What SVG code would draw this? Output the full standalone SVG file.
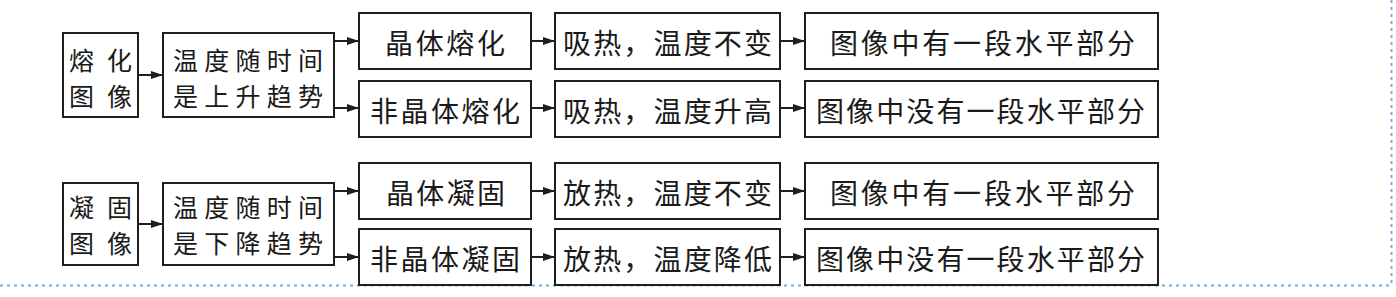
<svg xmlns="http://www.w3.org/2000/svg" width="1396" height="297" viewBox="0 0 1396 297">
<style>
.box{fill:#fff;stroke:#1e1e1e;stroke-width:2}
.t{font-family:"Noto Sans CJK SC","Noto Sans CJK JP",sans-serif;font-size:28px;fill:#1a1a1a;dominant-baseline:central}
.t2{font-size:25px}
.c{stroke:#1e1e1e;stroke-width:2;fill:none;marker-end:url(#ah)}
.dot{stroke:#6cb2d6;stroke-width:2;stroke-dasharray:3 4;fill:none}
</style>
<defs>
<marker id="ah" viewBox="0 0 12 8" refX="12" refY="4" markerWidth="12" markerHeight="8" markerUnits="userSpaceOnUse" orient="auto">
<path d="M0,0 L12,4 L0,8 Z" fill="#1e1e1e"/>
</marker>
</defs>
<rect width="1396" height="297" fill="#fff"/>
<g id="border">
<line class="dot" x1="0" y1="285.5" x2="1392" y2="285.5"/>
<line class="dot" x1="1391.5" y1="0" x2="1391.5" y2="285" style="stroke:#8aa8cc"/>
</g>
<g id="connectors">
<line class="c" x1="138" y1="75" x2="163" y2="75"/>
<line class="c" x1="334" y1="41" x2="359" y2="41"/>
<line class="c" x1="334" y1="108" x2="359" y2="108"/>
<line class="c" x1="531" y1="41" x2="555" y2="41"/>
<line class="c" x1="531" y1="108" x2="555" y2="108"/>
<line class="c" x1="780" y1="41" x2="805" y2="41"/>
<line class="c" x1="780" y1="108" x2="805" y2="108"/>
<line class="c" x1="138" y1="224" x2="163" y2="224"/>
<line class="c" x1="334" y1="191" x2="359" y2="191"/>
<line class="c" x1="334" y1="257" x2="359" y2="257"/>
<line class="c" x1="531" y1="191" x2="555" y2="191"/>
<line class="c" x1="531" y1="257" x2="555" y2="257"/>
<line class="c" x1="780" y1="191" x2="805" y2="191"/>
<line class="c" x1="780" y1="257" x2="805" y2="257"/>
</g>
<g id="melt-image">
<rect class="box" x="63" y="33" width="75" height="84"/>
<text class="t t2"><tspan x="69" y="58.8" textLength="63" lengthAdjust="spacing">熔化</tspan><tspan x="69" y="95.2" textLength="63" lengthAdjust="spacing">图像</tspan></text>
</g>
<g id="melt-trend">
<rect class="box" x="163" y="33" width="171" height="84"/>
<text class="t t2"><tspan x="173" y="58.8" textLength="150" lengthAdjust="spacing">温度随时间</tspan><tspan x="173" y="95.2" textLength="150" lengthAdjust="spacing">是上升趋势</tspan></text>
</g>
<g id="crystal-melt">
<rect class="box" x="359" y="13" width="172" height="56"/>
<text class="t" x="385" y="42" textLength="120" lengthAdjust="spacing">晶体熔化</text>
</g>
<g id="amorphous-melt">
<rect class="box" x="359" y="81" width="172" height="56"/>
<text class="t" x="370" y="110" textLength="150" lengthAdjust="spacing">非晶体熔化</text>
</g>
<g id="absorb-const">
<rect class="box" x="555" y="13" width="225" height="56"/>
<text class="t" x="563" y="42" textLength="209" lengthAdjust="spacing">吸热，温度不变</text>
</g>
<g id="absorb-rise">
<rect class="box" x="555" y="81" width="225" height="56"/>
<text class="t" x="563" y="110" textLength="209" lengthAdjust="spacing">吸热，温度升高</text>
</g>
<g id="melt-flat">
<rect class="box" x="805" y="13" width="353" height="56"/>
<text class="t" x="830" y="42" textLength="305" lengthAdjust="spacing">图像中有一段水平部分</text>
</g>
<g id="melt-noflat">
<rect class="box" x="805" y="81" width="353" height="56"/>
<text class="t" x="816" y="110" textLength="329" lengthAdjust="spacing">图像中没有一段水平部分</text>
</g>
<g id="solid-image">
<rect class="box" x="63" y="183" width="75" height="82"/>
<text class="t t2"><tspan x="69" y="205.8" textLength="63" lengthAdjust="spacing">凝固</tspan><tspan x="69" y="242.2" textLength="63" lengthAdjust="spacing">图像</tspan></text>
</g>
<g id="solid-trend">
<rect class="box" x="163" y="183" width="171" height="82"/>
<text class="t t2"><tspan x="173" y="205.8" textLength="150" lengthAdjust="spacing">温度随时间</tspan><tspan x="173" y="242.2" textLength="150" lengthAdjust="spacing">是下降趋势</tspan></text>
</g>
<g id="crystal-solid">
<rect class="box" x="359" y="163" width="172" height="56"/>
<text class="t" x="386" y="192" textLength="119" lengthAdjust="spacing">晶体凝固</text>
</g>
<g id="amorphous-solid">
<rect class="box" x="359" y="229" width="172" height="56"/>
<text class="t" x="370" y="258" textLength="150" lengthAdjust="spacing">非晶体凝固</text>
</g>
<g id="release-const">
<rect class="box" x="555" y="163" width="225" height="56"/>
<text class="t" x="563" y="192" textLength="209" lengthAdjust="spacing">放热，温度不变</text>
</g>
<g id="release-drop">
<rect class="box" x="555" y="229" width="225" height="56"/>
<text class="t" x="563" y="258" textLength="209" lengthAdjust="spacing">放热，温度降低</text>
</g>
<g id="solid-flat">
<rect class="box" x="805" y="163" width="353" height="56"/>
<text class="t" x="830" y="192" textLength="305" lengthAdjust="spacing">图像中有一段水平部分</text>
</g>
<g id="solid-noflat">
<rect class="box" x="805" y="229" width="353" height="56"/>
<text class="t" x="816" y="258" textLength="329" lengthAdjust="spacing">图像中没有一段水平部分</text>
</g>
</svg>
